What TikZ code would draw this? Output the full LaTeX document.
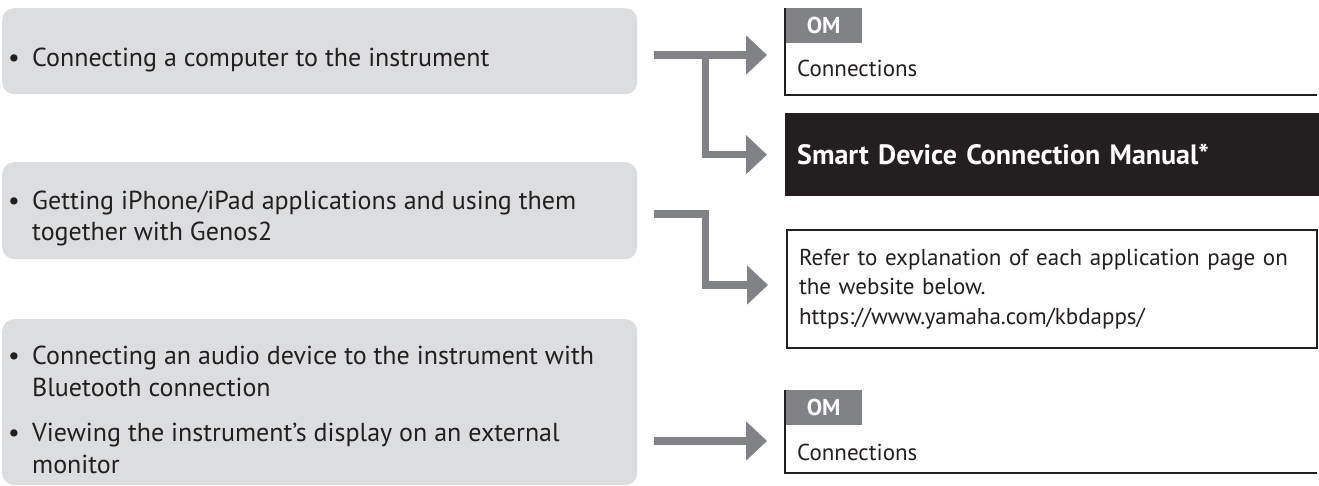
\documentclass[tikz,border=0pt]{standalone}
\usepackage{fontspec}
\setmainfont{PT Sans}
\usetikzlibrary{positioning}
\usetikzlibrary{arrows.meta}
\definecolor{boxgray}{RGB}{220,221,222}
\definecolor{arrowgray}{RGB}{128,130,133}
\definecolor{inkblack}{RGB}{35,31,32}
\newcommand{\topicbullet}{\makebox[24pt][l]{\textbullet}}
\newcommand{\topicindent}{\hspace*{24pt}}
\begin{document}
\begin{tikzpicture}[x=1pt, y=-1pt,
    itembox/.style={rectangle, rounded corners=12pt, fill=boxgray, anchor=north west, inner sep=0pt, minimum width=635pt},
    itemtext/.style={anchor=base west, align=left, inner sep=0pt, text=inkblack, font=\fontsize{26}{32}\selectfont},
    omtab/.style={rectangle, fill=arrowgray, anchor=north west, minimum width=77pt, minimum height=35pt, inner sep=0pt, text=white, font=\bfseries\fontsize{23}{26}\selectfont},
    reftext/.style={anchor=base west, align=left, inner sep=0pt, text=inkblack, font=\fontsize{23}{26.5}\selectfont},
    manual/.style={rectangle, fill=inkblack, anchor=north west, text width=510pt, inner xsep=12pt, minimum height=83pt, align=left, text=white, font=\bfseries\fontsize{28}{32}\selectfont},
    urlbox/.style={rectangle, draw=inkblack, line width=2pt, anchor=north west, text width=506pt, inner xsep=12pt, minimum height=118pt, align=left, text=inkblack, font=\fontsize{23}{26.5}\selectfont},
    frameline/.style={draw=inkblack, line width=2pt},
    flow/.style={draw=arrowgray, line width=7.5pt, line join=miter, shorten <=17pt, shorten >=18pt, -{Triangle[length=21pt,width=38pt]}}
  ]
  \useasboundingbox (0,0) rectangle (1319,486);

  % Topics (left)
  \node[itembox, minimum height=86pt] (lb1) at (2,8) {};
  \node[itembox, minimum height=97pt] (lb2) at (2,162) {};
  \node[itembox, minimum height=166pt] (lb3) at (2,319) {};

  % anchor base = baseline of the last line
  \node[itemtext] (t1) at (8,67) {\topicbullet Connecting a computer to the instrument};
  \node[itemtext] (t2) at (8,241) {\topicbullet Getting iPhone/iPad applications and using them\\\topicindent together with Genos2};
  \node[itemtext] (t3) at (8,473) {\topicbullet Connecting an audio device to the instrument with\\\topicindent Bluetooth connection\\[13pt]\topicbullet Viewing the instrument’s display on an external\\\topicindent monitor};

  % References (right)
  \node[omtab] (om1) at (785,8) {OM};
  \node[reftext] (c1) at (797,77) {Connections};
  \coordinate (f1) at (1317,95);
  \draw[frameline] (om1.north west) |- (f1);

  \node[manual] (sdm) at (785,113) {Smart Device Connection Manual*};

  \node[urlbox] (web) at (786,229) {Refer to explanation of each application page on\\[3pt]the website below.\\[3pt]https://www.yamaha.com/kbdapps/};

  \node[omtab] (om2) at (785,390) {OM};
  \node[reftext] (c2) at (797,460) {Connections};
  \coordinate (f2) at (1317,473);
  \draw[frameline] (om2.north west) |- (f2);

  % Arrows
  \coordinate (split) at (705.5,55);
  \draw[flow] (lb1.east |- split) -- (om1.west |- split);
  \draw[flow, shorten <=0pt] (split) |- (sdm.west);
  \draw[flow] (lb2.east |- 0,214) -- (705.5,214) |- (web.west |- 0,285);
  \draw[flow] (lb3.east |- 0,441) -- (om2.west |- 0,441);
\end{tikzpicture}
\end{document}
